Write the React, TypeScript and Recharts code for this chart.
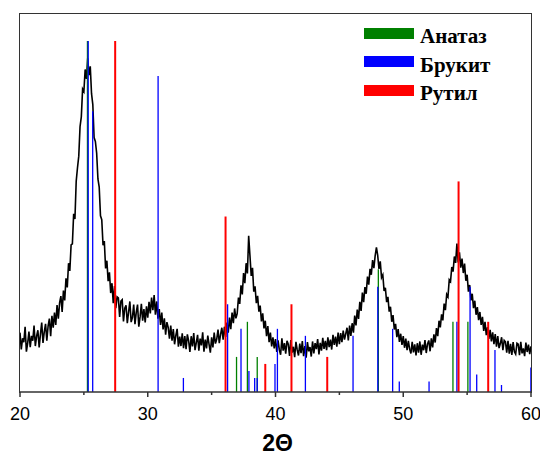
import { ComposedChart, Line, ReferenceLine, XAxis, YAxis } from "recharts";

// XRD pattern, 2θ from 20° to 60° in steps of 0.1°
const START_ANGLE = 20;
const STEP = 0.1;
const COUNTS = [
  16.9, 12.1, 15.3, 14.2, 18.6, 11.5, 13.9, 17.2, 12.8, 16.0,
  14.6, 18.9, 13.1, 15.9, 17.6, 12.7, 16.4, 19.8, 14.0, 17.1,
  19.4, 14.6, 18.8, 20.9, 15.9, 21.7, 18.3, 22.6, 19.1, 24.8,
  20.9, 25.4, 27.3, 22.8, 28.9, 26.1, 32.4, 29.8, 36.7, 34.5,
  41.9, 42.2, 50.8, 49.3, 60.1, 63.9, 67.2, 75.6, 78.4, 86.3,
  85.6, 91.9, 89.2, 95.1, 90.3, 92.8, 85.0, 81.9, 72.5, 71.4,
  68.1, 60.7, 58.4, 50.2, 49.1, 41.8, 43.0, 35.2, 37.4, 31.6,
  34.1, 28.2, 31.0, 25.3, 30.2, 23.9, 27.1, 26.8, 21.4, 25.9,
  26.3, 20.1, 23.9, 24.7, 19.6, 22.8, 25.8, 19.9, 21.2, 24.9,
  19.3, 22.7, 24.9, 18.6, 21.4, 25.1, 20.3, 23.6, 19.8, 24.4,
  21.2, 25.7, 22.4, 26.9, 23.3, 27.6, 22.0, 25.8, 20.9, 23.6,
  19.1, 22.6, 17.8, 21.0, 16.3, 19.9, 18.4, 15.2, 18.9, 14.6,
  17.9, 13.6, 16.1, 18.0, 12.9, 15.8, 13.1, 16.7, 12.5, 15.9,
  12.2, 16.4, 14.6, 11.4, 15.9, 13.0, 16.8, 11.9, 14.1, 16.3,
  11.8, 15.2, 13.3, 17.0, 11.5, 14.9, 12.4, 16.1, 13.6, 11.2,
  15.6, 12.7, 16.9, 13.8, 15.1, 17.8, 13.9, 16.4, 18.3, 14.9,
  18.6, 15.7, 19.8, 16.9, 21.2, 17.9, 22.6, 19.6, 23.8, 21.0,
  22.3, 26.9, 25.1, 30.4, 27.8, 33.9, 31.0, 36.7, 33.8, 44.5,
  38.9, 33.1, 35.4, 28.6, 30.1, 25.3, 27.4, 22.9, 24.6, 20.1,
  22.4, 18.1, 20.3, 15.9, 18.8, 14.2, 16.9, 13.0, 15.6, 12.4,
  15.1, 11.4, 14.7, 12.0, 10.6, 15.3, 11.8, 13.9, 10.9, 14.6,
  13.6, 10.3, 14.8, 11.2, 12.9, 9.9, 14.3, 12.0, 10.4, 13.8,
  11.1, 14.5, 10.2, 13.1, 9.8, 14.2, 11.6, 12.8, 10.1, 14.4,
  11.0, 13.9, 12.2, 15.1, 10.7, 14.0, 11.8, 15.4, 12.3, 14.6,
  11.9, 15.6, 12.8, 14.9, 12.1, 16.3, 13.4, 15.8, 12.9, 16.9,
  13.6, 16.8, 14.2, 17.5, 14.9, 16.6, 18.3, 14.7, 18.9, 16.0,
  19.6, 16.9, 21.8, 19.0, 23.5, 20.8, 25.7, 23.1, 28.3, 25.6,
  29.9, 28.0, 32.9, 30.6, 35.1, 33.4, 37.6, 35.3, 38.8, 41.2,
  38.9, 35.1, 37.2, 32.6, 33.4, 28.8, 29.7, 25.6, 27.1, 22.9,
  24.3, 20.0, 21.9, 17.8, 19.4, 15.6, 17.9, 14.3, 16.6, 13.4,
  15.9, 12.6, 15.2, 11.9, 14.6, 12.2, 11.0, 14.3, 11.3, 13.6,
  10.4, 13.9, 11.2, 14.4, 10.6, 13.5, 11.9, 14.8, 11.1, 13.7,
  14.7, 11.6, 15.3, 12.7, 16.4, 14.1, 18.2, 15.9, 20.3, 18.4,
  22.1, 20.4, 25.2, 23.3, 27.8, 27.1, 32.0, 31.5, 35.6, 34.3,
  38.6, 36.8, 42.3, 36.9, 39.8, 35.4, 38.0, 33.9, 36.6, 31.7,
  33.4, 28.6, 30.5, 26.1, 28.0, 23.9, 26.0, 22.0, 24.2, 20.5,
  22.8, 19.1, 21.4, 17.4, 20.0, 16.2, 18.5, 15.1, 17.7, 14.4,
  17.0, 13.6, 16.5, 12.9, 15.9, 12.5, 13.8, 15.6, 11.9, 14.7,
  14.3, 11.2, 14.6, 10.9, 13.7, 10.6, 14.2, 11.5, 10.8, 13.9,
  13.6, 10.5, 14.3, 11.0, 12.4, 10.2, 14.1, 11.4, 13.5, 10.8,
  13.0,
];

// reference patterns: peak positions (2θ) and relative intensities (%)
const ANATASE_POS = [25.28, 36.95, 37.8, 38.57, 48.05, 53.89, 55.06];
const ANATASE_INT = [100, 10, 20, 10, 35, 20, 20];

const BROOKITE_POS = [
  25.34, 25.69, 30.81, 32.79, 36.25, 37.3, 37.92, 38.37, 38.57, 39.96, 40.15, 42.34, 46.07, 48.01,
  49.17, 49.69, 52.02, 54.2, 55.23, 55.75, 57.18, 57.69, 59.99,
];
const BROOKITE_INT = [100, 80, 90, 4, 25, 18, 6, 4, 4, 8, 18, 16, 16, 30, 18, 3, 3, 20, 30, 5, 12, 2, 7];

const RUTILE_POS = [27.45, 36.09, 39.2, 41.25, 44.05, 54.33, 56.65];
const RUTILE_INT = [100, 50, 8, 25, 10, 60, 20];

const X_TICKS = [20, 25, 30, 35, 40, 45, 50, 55, 60];
const X_DOMAIN = [20, 60];
const Y_DOMAIN = [0, 107.7];

const PHASES = [
  { name: "Анатаз", color: "#008000", pos: ANATASE_POS, int: ANATASE_INT },
  { name: "Брукит", color: "#0000ff", pos: BROOKITE_POS, int: BROOKITE_INT },
  { name: "Рутил", color: "#ff0000", pos: RUTILE_POS, int: RUTILE_INT },
];

const AXIS_COLOR = "#333";
const SANS = "Arial, 'Liberation Sans', sans-serif";
const SERIF = "'Times New Roman', 'Liberation Serif', serif";

const data = COUNTS.map((v, i) => ({ angle: +(START_ANGLE + i * STEP).toFixed(1), v }));

function AxisTick({ x, y, payload }: { x?: number; y?: number; payload?: { value: number } }) {
  if (x === undefined || y === undefined || !payload) return null;
  const major = payload.value % 10 === 0;
  return (
    <g>
      <line x1={x} x2={x} y1={y} y2={y + (major ? 5 : 3)} stroke={AXIS_COLOR} strokeWidth={1.5} />
      {major && (
        <text x={x} y={y + 28} textAnchor="middle" fontSize={18} fill="#000" fontFamily={SANS}>
          {payload.value}
        </text>
      )}
    </g>
  );
}

function AxisTitle({ viewBox }: { viewBox?: { x: number; y: number; width: number } }) {
  if (!viewBox) return null;
  return (
    <text
      x={viewBox.x + viewBox.width / 2 + 2}
      y={viewBox.y + 59}
      textAnchor="middle"
      fontSize={23}
      fontWeight="bold"
      fill="#000"
      fontFamily={SANS}
    >
      2Θ
    </text>
  );
}

function PhaseLegend() {
  return (
    <div style={{ position: "absolute", left: 364, top: 19, fontFamily: SERIF }}>
      {PHASES.map((p) => (
        <div key={p.name} style={{ display: "flex", alignItems: "center", height: 28.5 }}>
          <div style={{ width: 50, height: 11, background: p.color }} />
          <span style={{ marginLeft: 6, fontSize: 21, fontWeight: "bold", color: "#000", lineHeight: "20px", marginTop: 6 }}>
            {p.name}
          </span>
        </div>
      ))}
    </div>
  );
}

// box around the plotting area (top, left, right); the x axis closes it at the bottom
const plotFrame: React.CSSProperties = {
  position: "absolute",
  left: 19,
  top: 13,
  width: 513,
  height: 380,
  boxSizing: "border-box",
  borderTop: `1.5px solid ${AXIS_COLOR}`,
  borderLeft: `1.5px solid ${AXIS_COLOR}`,
  borderRight: `1.5px solid ${AXIS_COLOR}`,
  pointerEvents: "none",
};

export default function App() {
  return (
    <div style={{ position: "absolute", left: 0, top: 0, width: 540, height: 455, background: "#fff" }}>
      <ComposedChart width={540} height={455} data={data} margin={{ top: 14, right: 9, bottom: 0, left: 20 }}>
        <XAxis
          dataKey="angle"
          type="number"
          domain={X_DOMAIN}
          ticks={X_TICKS}
          interval={0}
          height={63}
          tickSize={0}
          tickMargin={0}
          tickLine={false}
          tick={<AxisTick />}
          axisLine={{ stroke: AXIS_COLOR, strokeWidth: 1.5 }}
          label={<AxisTitle />}
          allowDataOverflow
        />
        <YAxis type="number" domain={Y_DOMAIN} hide allowDataOverflow />
        <Line
          dataKey="v"
          type="linear"
          stroke="#000"
          strokeWidth={1.6}
          dot={false}
          activeDot={false}
          isAnimationActive={false}
        />
        {PHASES.map((p) =>
          p.pos.map((pos, i) => (
            <ReferenceLine
              key={`${p.name}-${pos}`}
              segment={[
                { x: pos, y: 0 },
                { x: pos, y: p.int[i] },
              ]}
              stroke={p.color}
              strokeWidth={p.name === "Рутил" ? 2 : 1.3}
              ifOverflow="visible"
            />
          ))
        )}
      </ComposedChart>
      <div style={plotFrame} />
      <PhaseLegend />
    </div>
  );
}
